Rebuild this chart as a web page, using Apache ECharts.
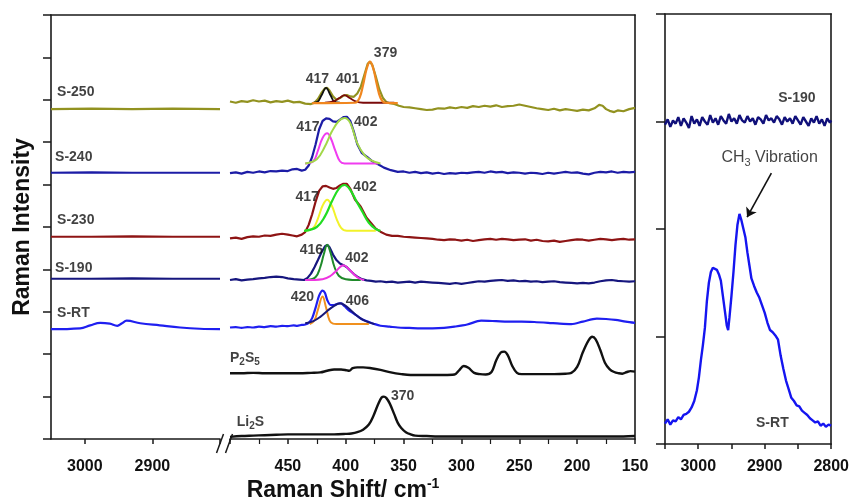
<!DOCTYPE html>
<html><head><meta charset="utf-8">
<script src="https://cdn.jsdelivr.net/npm/echarts@6.0.0/dist/echarts.min.js"></script>
<style>html,body{margin:0;padding:0;background:#fff}#c{width:852px;height:502px}</style>
</head><body><div id="c"></div>
<script>
const FONT = '"Liberation Sans", Arial, Helvetica, sans-serif';

// ---------- DATA : high-wavenumber window of main panel (3050-2800) ----------
const s250Left = [[3050,7.78],[2990,7.79],[2930,7.78],[2870,7.79],[2800,7.78]];
const s240Left = [[3050,6.28],[2990,6.29],[2930,6.28],[2870,6.28],[2800,6.28]];
const s230Left = [[3050,4.77],[2990,4.77],[2930,4.78],[2870,4.77],[2800,4.77]];
const s190Left = [[3050,3.78],[2990,3.78],[2930,3.79],[2870,3.78],[2800,3.78]];
const sRTLeft = [[3050,2.59],[3007,2.61],[2992,2.68],[2977,2.74],[2963,2.72],[2952,2.67],[2945,2.73],[2938,2.79],[2918,2.73],[2889,2.68],[2859,2.63],[2830,2.60],[2800,2.59]];

// ---------- DATA : low-wavenumber window of main panel (500-150) ----------
const s250 = [[500,7.96],[495,7.93],[490,7.97],[485,7.95],[480,7.99],[475,7.96],[470,7.98],[465,7.94],[460,7.97],[455,7.95],[450,7.98],[445,7.94],[440,7.95],[435,7.91],[430,7.90],[427,7.93],[424,8.02],[421,8.16],[418,8.27],[416,8.28],[414,8.22],[411,8.08],[408,8.00],[405,8.04],[402,8.10],[399,8.11],[396,8.08],[393,8.07],[390,8.15],[387,8.30],[384,8.58],[381,8.85],[379,8.90],[377,8.82],[374,8.55],[371,8.25],[368,8.05],[365,7.95],[362,7.92],[358,7.90],[354,7.86],[350,7.83],[345,7.82],[340,7.80],[335,7.78],[330,7.76],[325,7.77],[320,7.80],[315,7.79],[310,7.82],[305,7.80],[300,7.83],[295,7.81],[290,7.85],[285,7.83],[280,7.86],[275,7.84],[270,7.87],[265,7.83],[260,7.85],[255,7.86],[250,7.89],[245,7.86],[240,7.83],[235,7.80],[230,7.78],[225,7.76],[220,7.79],[215,7.75],[210,7.78],[205,7.76],[200,7.74],[195,7.77],[190,7.75],[185,7.80],[181,7.88],[178,7.86],[175,7.78],[172,7.74],[168,7.71],[165,7.75],[160,7.73],[155,7.78],[150,7.81]];
const s250Fit417 = [[428,7.93],[424,7.96],[421,8.10],[417,8.28],[413,8.10],[410,7.96],[405,7.93]];
const s250Fit401 = [[418,7.93],[410,7.97],[405,8.05],[401,8.11],[397,8.05],[392,7.97],[385,7.93],[358,7.93]];
const s250Fit379 = [[429,7.92],[392,7.93],[388,8.05],[385,8.35],[382,8.72],[379,8.90],[376,8.72],[373,8.35],[370,8.05],[366,7.93],[355,7.92]];

const s240 = [[500,6.27],[495,6.29],[490,6.26],[485,6.30],[480,6.28],[475,6.31],[470,6.29],[465,6.32],[460,6.31],[455,6.33],[450,6.32],[446,6.36],[442,6.37],[438,6.33],[435,6.35],[432,6.45],[429,6.65],[426,6.95],[423,7.30],[420,7.50],[417,7.56],[414,7.55],[411,7.49],[408,7.48],[405,7.53],[402,7.59],[399,7.60],[396,7.50],[393,7.25],[390,6.95],[386,6.74],[381,6.64],[377,6.55],[372,6.48],[367,6.40],[361,6.34],[355,6.30],[350,6.31],[345,6.28],[340,6.30],[335,6.27],[330,6.29],[325,6.26],[320,6.28],[315,6.25],[310,6.27],[305,6.26],[300,6.28],[295,6.27],[290,6.29],[285,6.30],[280,6.28],[275,6.31],[270,6.29],[265,6.30],[260,6.27],[255,6.29],[250,6.28],[245,6.26],[240,6.28],[235,6.27],[230,6.25],[225,6.28],[220,6.26],[215,6.28],[210,6.30],[205,6.28],[200,6.29],[195,6.26],[190,6.24],[185,6.28],[180,6.30],[175,6.29],[170,6.31],[165,6.28],[160,6.30],[155,6.29],[150,6.30]];
const s240Fit417 = [[435,6.50],[428,6.55],[424,6.80],[420,7.10],[416,7.21],[413,7.10],[409,6.80],[405,6.55],[401,6.50],[372,6.50]];
const s240Fit402 = [[435,6.50],[425,6.60],[418,6.90],[412,7.25],[406,7.50],[401,7.57],[396,7.45],[390,6.97],[384,6.70],[378,6.57],[370,6.50]];

const s230 = [[500,4.73],[495,4.75],[490,4.72],[485,4.76],[480,4.78],[475,4.77],[470,4.80],[465,4.79],[460,4.82],[455,4.84],[450,4.82],[446,4.80],[442,4.78],[438,4.82],[435,4.88],[432,5.05],[429,5.30],[426,5.60],[423,5.85],[420,5.96],[417,5.97],[414,5.93],[411,5.90],[408,5.92],[405,5.98],[402,6.02],[399,6.02],[396,5.90],[392,5.65],[387,5.48],[382,5.22],[378,5.09],[374,4.96],[370,4.89],[365,4.82],[360,4.79],[355,4.79],[350,4.77],[345,4.76],[340,4.75],[335,4.74],[330,4.73],[325,4.72],[320,4.70],[315,4.69],[310,4.71],[305,4.70],[300,4.68],[295,4.70],[290,4.67],[285,4.69],[280,4.71],[275,4.72],[270,4.70],[265,4.72],[260,4.71],[255,4.69],[250,4.70],[245,4.71],[240,4.68],[235,4.70],[230,4.67],[225,4.66],[220,4.68],[215,4.65],[210,4.67],[205,4.69],[200,4.71],[195,4.70],[190,4.68],[185,4.70],[180,4.72],[175,4.71],[170,4.69],[165,4.71],[160,4.72],[155,4.70],[150,4.71]];
const s230Fit417 = [[435,4.91],[428,4.98],[424,5.20],[420,5.50],[416,5.64],[412,5.50],[408,5.20],[404,4.98],[399,4.91],[374,4.91]];
const s230Fit402 = [[436,4.91],[425,5.00],[418,5.25],[412,5.60],[406,5.90],[401,5.99],[396,5.87],[391,5.62],[386,5.38],[380,5.10],[374,4.95],[370,4.91]];

const s190 = [[500,3.75],[495,3.77],[490,3.74],[485,3.76],[480,3.77],[475,3.79],[470,3.80],[465,3.82],[460,3.83],[455,3.82],[450,3.79],[445,3.77],[440,3.76],[436,3.75],[433,3.80],[430,3.90],[427,4.05],[424,4.22],[421,4.40],[418,4.54],[416,4.58],[414,4.52],[411,4.35],[408,4.22],[405,4.14],[402,4.10],[399,4.05],[396,3.97],[393,3.89],[390,3.83],[386,3.77],[382,3.74],[378,3.73],[374,3.71],[370,3.72],[365,3.70],[360,3.71],[355,3.69],[350,3.70],[345,3.71],[340,3.69],[335,3.71],[330,3.70],[325,3.69],[320,3.68],[315,3.67],[310,3.66],[305,3.68],[300,3.66],[295,3.68],[290,3.70],[285,3.72],[280,3.71],[275,3.73],[270,3.74],[265,3.75],[260,3.73],[255,3.74],[250,3.72],[245,3.73],[240,3.71],[235,3.72],[230,3.70],[225,3.71],[220,3.72],[215,3.70],[210,3.69],[205,3.68],[200,3.67],[195,3.68],[190,3.67],[185,3.69],[180,3.72],[175,3.74],[170,3.75],[165,3.73],[160,3.72],[155,3.71],[150,3.72]];
const s190Fit416 = [[433,3.75],[426,3.82],[422,4.05],[419,4.35],[416,4.58],[413,4.38],[410,4.08],[406,3.85],[400,3.77],[387,3.75]];
const s190Fit402 = [[435,3.75],[420,3.77],[413,3.85],[408,3.97],[402,4.10],[397,4.00],[392,3.86],[388,3.78],[384,3.75]];

const sRT = [[500,2.63],[495,2.64],[490,2.62],[485,2.64],[480,2.63],[475,2.65],[470,2.64],[465,2.66],[460,2.65],[455,2.67],[450,2.66],[445,2.68],[442,2.67],[438,2.69],[435,2.70],[432,2.74],[429,2.85],[426,3.10],[423,3.38],[420,3.50],[418,3.45],[416,3.28],[413,3.16],[410,3.16],[407,3.19],[404,3.20],[401,3.13],[397,3.03],[393,2.96],[389,2.88],[385,2.81],[381,2.77],[376,2.72],[370,2.67],[362,2.65],[355,2.63],[345,2.62],[335,2.61],[325,2.61],[315,2.62],[306,2.65],[295,2.70],[283,2.79],[270,2.78],[260,2.77],[248,2.77],[237,2.76],[225,2.74],[215,2.72],[205,2.71],[195,2.77],[183,2.84],[175,2.83],[167,2.81],[158,2.77],[150,2.74]];
const sRTFit420 = [[431,2.71],[427,2.80],[424,3.05],[420,3.36],[417,3.10],[414,2.80],[411,2.72],[408,2.71],[380,2.71]];
const sRTFit406 = [[435,2.73],[428,2.78],[422,2.88],[416,3.02],[410,3.14],[405,3.20],[400,3.14],[395,3.02],[390,2.90],[385,2.81],[380,2.75],[375,2.71]];

const p2s5 = [[500,1.55],[490,1.55],[480,1.56],[470,1.55],[460,1.55],[450,1.55],[440,1.55],[430,1.56],[422,1.57],[416,1.61],[410,1.64],[404,1.64],[399,1.62],[397,1.61],[394,1.67],[390,1.69],[385,1.69],[378,1.67],[370,1.63],[361,1.57],[352,1.53],[344,1.51],[335,1.51],[326,1.51],[315,1.51],[306,1.52],[302,1.62],[298,1.72],[294,1.68],[289,1.56],[284,1.53],[279,1.52],[274,1.58],[270,1.85],[266,2.04],[263,2.06],[260,1.98],[256,1.72],[252,1.56],[248,1.53],[240,1.53],[230,1.53],[220,1.53],[210,1.54],[205,1.56],[200,1.70],[195,2.05],[190,2.33],[187,2.41],[184,2.35],[180,2.10],[176,1.80],[172,1.65],[168,1.58],[164,1.55],[161,1.54],[157,1.58],[154,1.60],[150,1.59]];
const li2s = [[500,0.05],[490,0.07],[480,0.08],[470,0.09],[460,0.10],[450,0.11],[440,0.11],[430,0.11],[420,0.11],[410,0.11],[400,0.12],[395,0.13],[390,0.16],[385,0.22],[380,0.34],[376,0.55],[372,0.82],[369,0.98],[367,1.00],[365,0.97],[362,0.84],[358,0.58],[355,0.38],[352,0.26],[348,0.16],[344,0.11],[340,0.08],[330,0.07],[320,0.06],[300,0.06],[280,0.06],[260,0.06],[240,0.06],[220,0.06],[200,0.06],[180,0.06],[160,0.06],[150,0.07]];

// ---------- DATA : right panel (3050-2800) ----------
const rS190 = [[3050,2.97],[3046,3.02],[3042,2.95],[3038,3.01],[3034,2.98],[3030,3.04],[3026,2.96],[3022,3.03],[3018,2.99],[3014,2.94],[3010,3.05],[3006,2.98],[3002,3.02],[2998,2.96],[2994,3.04],[2990,3.00],[2986,2.97],[2982,3.06],[2978,2.99],[2974,3.03],[2970,2.97],[2966,3.05],[2962,3.01],[2958,2.98],[2954,3.07],[2950,3.00],[2946,3.03],[2942,2.98],[2938,3.06],[2934,3.01],[2930,2.99],[2926,3.05],[2922,3.00],[2918,3.03],[2914,2.97],[2910,3.04],[2906,3.02],[2902,2.98],[2898,3.06],[2894,3.01],[2890,3.03],[2886,2.99],[2882,3.05],[2878,3.02],[2874,2.97],[2870,3.04],[2866,3.00],[2862,3.03],[2858,2.98],[2854,3.05],[2850,3.01],[2846,2.97],[2842,3.04],[2838,3.00],[2834,2.96],[2830,3.03],[2826,2.99],[2822,3.05],[2818,2.98],[2814,3.02],[2810,2.96],[2806,3.03],[2802,2.99],[2800,3.01]];
const rSRT = [[3050,0.19],[3046,0.23],[3042,0.18],[3038,0.22],[3034,0.21],[3030,0.25],[3026,0.23],[3022,0.27],[3018,0.28],[3014,0.30],[3010,0.34],[3006,0.40],[3002,0.50],[2999,0.62],[2996,0.78],[2993,0.92],[2990,1.08],[2987,1.33],[2984,1.50],[2981,1.60],[2978,1.64],[2975,1.63],[2972,1.62],[2969,1.58],[2966,1.52],[2963,1.38],[2960,1.24],[2957,1.10],[2955,1.06],[2953,1.18],[2950,1.38],[2947,1.60],[2944,1.85],[2941,2.04],[2938,2.14],[2935,2.08],[2932,2.00],[2929,1.92],[2926,1.78],[2923,1.66],[2920,1.54],[2916,1.47],[2912,1.41],[2908,1.36],[2904,1.29],[2900,1.22],[2896,1.13],[2892,1.06],[2888,1.04],[2884,1.01],[2880,0.97],[2876,0.82],[2872,0.70],[2868,0.59],[2864,0.51],[2860,0.43],[2856,0.40],[2852,0.36],[2848,0.35],[2844,0.31],[2840,0.29],[2836,0.27],[2832,0.24],[2828,0.22],[2824,0.20],[2820,0.21],[2816,0.17],[2812,0.19],[2808,0.16],[2804,0.18],[2800,0.17]];

// ---------- DATA : text annotations ----------
const sampleNames = [[3041,8.17,'S-250'],[3044,6.65,'S-240'],[3041,5.17,'S-230'],[3044,4.03,'S-190'],[3041,2.98,'S-RT']];
const peakNumbers = [[365.6,9.09,'379'],[424.4,8.49,'417'],[398.3,8.49,'401'],[432.7,7.35,'417'],[382.7,7.48,'402'],[433.4,5.70,'417'],[383.3,5.94,'402'],[429.6,4.46,'416'],[390.3,4.26,'402'],[437.4,3.34,'420'],[389.9,3.26,'406'],[350.8,1.02,'370']];
const compoundNames = [[500,1.91,'{a|P}{s|2}{a|S}{s|5}'],[494.2,0.40,'{a|Li}{s|2}{a|S}']];
const rightNames = [[2851.5,3.22,'S-190'],[2888.5,0.19,'S-RT']];
const ch3Note = [[2892.6,2.66,'{n|CH}{s|3}{n| Vibration}']];
const ch3Arrow = [[2890,2.52],[2926.5,2.11]];

const xTicksMainLeft = {min:2800, max:3050, interval:100};
const xTicksMainRight = {min:150, max:500, interval:50};
const xTicksPanel = {min:2800, max:3050, interval:50};

// ---------- CHART ----------
const AX = '#1a1a1a';
const chart = echarts.init(document.getElementById('c'), null, {renderer:'canvas'});
function ln(data, color, width, xi, yi, smooth, z){
  return {type:'line', data, xAxisIndex:xi, yAxisIndex:yi, symbol:'none', showSymbol:false,
    smooth: smooth||false, lineStyle:{color, width}, silent:true, z: z||2, animation:false};
}
function txt(arr, xi, yi, style, align){
  return {type:'scatter', xAxisIndex:xi, yAxisIndex:yi, symbolSize:0, silent:true, clip:false, z:10,
    data: arr.map(d=>({value:[d[0],d[1]], label:{formatter:d[2]}})),
    label:Object.assign({show:true, position:'inside', align: align||'center', verticalAlign:'middle', color:'#111', fontFamily:FONT}, style)};
}
const tickLbl = {color:'#111', fontFamily:FONT, fontWeight:'bold', fontSize:16};
const axLine = {show:true, onZero:false, lineStyle:{color:AX, width:1.6}};
const axTick = (len)=>({show:true, length:len, lineStyle:{color:AX, width:1.5}});
const hiddenAxis = {axisLine:{show:false}, axisTick:{show:false}, axisLabel:{show:false}, splitLine:{show:false}};

const option = {
  animation:false,
  backgroundColor:'#fff',
  grid:[
    {left:51, top:15, width:169, height:424},
    {left:230, top:15, width:405, height:424},
    {left:665, top:14, width:169, height:430},
    {left:51, top:15, width:584, height:424}
  ],
  xAxis:[
    {type:'value', gridIndex:0, inverse:true, min:xTicksMainLeft.min, max:xTicksMainLeft.max, interval:xTicksMainLeft.interval,
      axisLine:axLine, axisTick:axTick(5), splitLine:{show:false},
      axisLabel:Object.assign({margin:20, formatter:v=> v===2800?'':String(v)}, tickLbl)},
    {type:'value', gridIndex:1, inverse:true, min:xTicksMainRight.min, max:xTicksMainRight.max, interval:xTicksMainRight.interval,
      axisLine:axLine, axisTick:axTick(5), minorTick:{show:true, splitNumber:2, length:5, lineStyle:{color:AX, width:1.2}},
      splitLine:{show:false}, minorSplitLine:{show:false},
      axisLabel:Object.assign({margin:20, formatter:v=> v===500?'':String(v)}, tickLbl)},
    {type:'value', gridIndex:2, inverse:true, min:xTicksPanel.min, max:xTicksPanel.max, interval:xTicksPanel.interval,
      axisLine:axLine, axisTick:axTick(5), splitLine:{show:false},
      axisLabel:Object.assign({margin:15, interval:1, formatter:v=> v%100===0?String(v):''}, tickLbl)},
    {type:'value', gridIndex:3, position:'top', min:0, max:1, axisLine:axLine, axisTick:{show:false}, axisLabel:{show:false}, splitLine:{show:false}},
    {type:'value', gridIndex:2, position:'top', min:0, max:1, axisLine:axLine, axisTick:{show:false}, axisLabel:{show:false}, splitLine:{show:false}}
  ],
  yAxis:[
    {type:'value', gridIndex:0, min:0, max:10, interval:1, axisLine:axLine, axisTick:axTick(8), axisLabel:{show:false}, splitLine:{show:false},
      name:'Raman Intensity', nameLocation:'middle', nameGap:17, nameRotate:90,
      nameTextStyle:{fontFamily:FONT, fontWeight:'bold', fontSize:23, color:'#111'}},
    Object.assign({type:'value', gridIndex:1, min:0, max:10}, hiddenAxis),
    {type:'value', gridIndex:2, min:0, max:4, interval:1, axisLine:axLine, axisTick:axTick(9), axisLabel:{show:false}, splitLine:{show:false}},
    {type:'value', gridIndex:3, position:'right', min:0, max:1, axisLine:axLine, axisTick:{show:false}, axisLabel:{show:false}, splitLine:{show:false}},
    {type:'value', gridIndex:2, position:'right', min:0, max:1, axisLine:axLine, axisTick:{show:false}, axisLabel:{show:false}, splitLine:{show:false}}
  ],
  graphic:[
    {type:'line', shape:{x1:216.5, y1:453, x2:223.5, y2:434}, style:{stroke:AX, lineWidth:1.5}},
    {type:'line', shape:{x1:225.5, y1:453, x2:232.5, y2:434}, style:{stroke:AX, lineWidth:1.5}},
    {type:'text', x:343, y:491, style:{text:'{t|Raman Shift/ cm}{p|-1}', align:'center', verticalAlign:'middle',
      rich:{t:{fontFamily:FONT, fontWeight:'bold', fontSize:23, fill:'#111'}, p:{fontFamily:FONT, fontWeight:'bold', fontSize:14, fill:'#111', padding:[0,0,13,0]}}}}
  ],
  series:[
    ln(s250Left,'#929220',2.2,0,0), ln(s240Left,'#1c1ca6',2.2,0,0), ln(s230Left,'#8e1414',2.2,0,0),
    ln(s190Left,'#16167e',2.2,0,0), ln(sRTLeft,'#1f1ff0',2.2,0,0,0.4),
    ln(s250,'#929220',2.2,1,1), ln(s240,'#1c1ca6',2.2,1,1), ln(s230,'#8e1414',2.2,1,1),
    ln(s190,'#16167e',2.2,1,1), ln(sRT,'#1f1ff0',2.2,1,1,0.3),
    ln(p2s5,'#111111',2.4,1,1,0.35), ln(li2s,'#111111',2.4,1,1,0.35),
    ln(s250Fit417,'#111111',1.8,1,1,0.4,3), ln(s250Fit401,'#7a0a0a',1.8,1,1,0.4,3), ln(s250Fit379,'#f0861e',2.2,1,1,0.4,3),
    ln(s240Fit417,'#f03cf0',2,1,1,0.4,3), ln(s240Fit402,'#a2d848',2,1,1,0.4,3),
    ln(s230Fit417,'#f2f22a',2,1,1,0.4,3), ln(s230Fit402,'#22dd22',2.2,1,1,0.4,3),
    ln(s190Fit416,'#1f8a2a',2,1,1,0.4,3), ln(s190Fit402,'#ee35e0',2,1,1,0.4,3),
    ln(sRTFit420,'#f0901e',2,1,1,0.4,3), ln(sRTFit406,'#18187a',2,1,1,0.4,3),
    ln(rS190,'#10107a',2.4,2,2), ln(rSRT,'#1515f0',2.4,2,2),
    txt(sampleNames,0,0,{fontWeight:'bold', fontSize:14},'left'),
    txt(peakNumbers,1,1,{fontWeight:'bold', fontSize:14}),
    txt(compoundNames,1,1,{rich:{a:{fontFamily:FONT, fontWeight:'bold', fontSize:14, color:'#111'}, s:{fontFamily:FONT, fontWeight:'bold', fontSize:10, color:'#111', padding:[9,0,0,0]}}},'left'),
    txt(rightNames,2,2,{fontWeight:'bold', fontSize:14}),
    txt(ch3Note,2,2,{rich:{n:{fontFamily:FONT, fontSize:16, color:'#111'}, s:{fontFamily:FONT, fontSize:11, color:'#111', padding:[9,0,0,0]}}}),
    {type:'lines', coordinateSystem:'cartesian2d', xAxisIndex:2, yAxisIndex:2, silent:true, z:10,
      symbol:['none','arrow'], symbolSize:9, lineStyle:{color:'#111', width:1.6, opacity:1},
      data:[{coords:ch3Arrow}]}
  ]
};
chart.setOption(option);
</script></body></html>
